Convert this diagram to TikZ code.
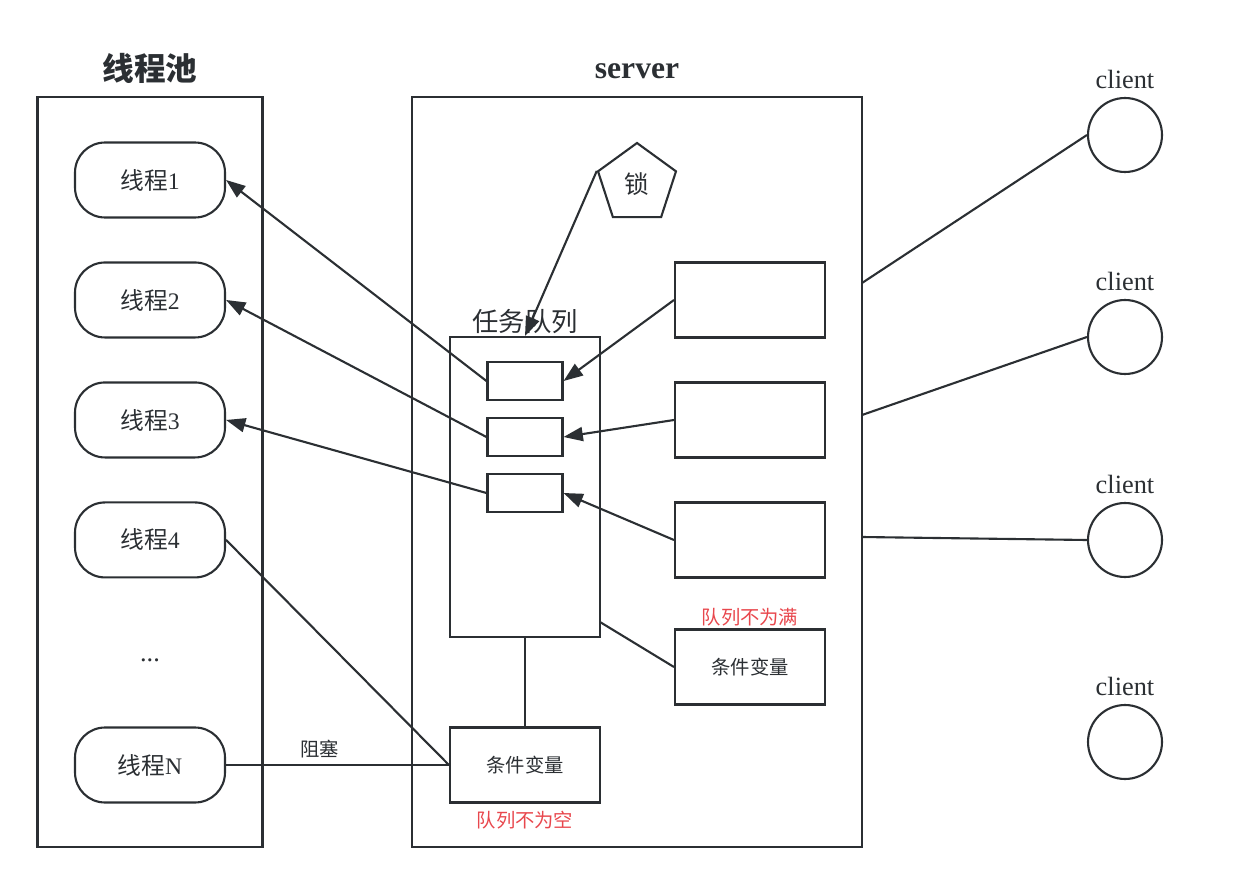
\documentclass[tikz,border=0pt]{standalone}
\usepackage{fontspec}
\setmainfont{Liberation Serif}
\newfontfamily\cjk{Noto Sans CJK SC}
\usetikzlibrary{arrows.meta,shapes.geometric,positioning}
\definecolor{linec}{HTML}{2B2F33}
\definecolor{warn}{HTML}{E8474D}

\begin{document}
\begin{tikzpicture}[x=0.02cm, y=-0.02cm, line width=1.2pt, color=linec,
  >={Triangle[length=11pt,width=8pt]}, node distance=2.4cm,
  pool/.style={draw, minimum width=4.5cm, minimum height=15cm},
  thread/.style={draw, rounded corners=0.6cm, minimum width=3cm, minimum height=1.5cm, font=\fontsize{13.5}{15}\selectfont},
  slot/.style={draw, minimum width=1.5cm, minimum height=0.76cm},
  producer/.style={draw, minimum width=3cm, minimum height=1.5cm},
  condvar/.style={draw, minimum width=3cm, minimum height=1.5cm, font=\cjk\fontsize{11}{13}\selectfont},
  client/.style={draw, circle, minimum size=1.48cm},
  clientlbl/.style={font=\fontsize{15}{17}\selectfont},
  note/.style={text=warn, font=\cjk\fontsize{11}{13}\selectfont}]
  \useasboundingbox (0,0) rectangle (1237,885);

  % thread pool
  \node[pool]   (pool)    at (150,472) {};
  \node[font=\cjk\bfseries\fontsize{18}{20}\selectfont] (pooltitle) at (150,68) {线程池};
  \node[thread] (T1)      at (150,180) {{\cjk 线程}1};
  \node[thread] (T2)      [below of=T1] {{\cjk 线程}2};
  \node[thread] (T3)      [below of=T2] {{\cjk 线程}3};
  \node[thread] (T4)      [below of=T3] {{\cjk 线程}4};
  \node[font=\fontsize{15}{17}\selectfont] (dots) at (150,660) {...};
  \node[thread] (TN)      at (150,765) {{\cjk 线程}N};

  % server
  \node[draw, minimum width=9cm, minimum height=15cm] (server) at (637,472) {};
  \node[font=\bfseries\fontsize{18}{20}\selectfont] (servertitle) at (637,71) {server};
  \node[draw, regular polygon, regular polygon sides=5, minimum size=1.64cm,
        font=\cjk\fontsize{14}{16}\selectfont] (lock) at (637,184) {锁};
  \node[draw, minimum width=3cm, minimum height=6cm] (queue) at (525,487) {};
  \node[font=\cjk\fontsize{15}{17}\selectfont] (queuelbl) at (525,322) {任务队列};
  \node[slot] (S1) at (525,381) {};
  \node[slot] (S2) at (525,437) {};
  \node[slot] (S3) at (525,493) {};
  \node[producer] (P1) at (750,300) {};
  \node[producer] (P2) at (750,420) {};
  \node[producer] (P3) at (750,540) {};
  \node[condvar] (CVfull)  at (750,667) {条件变量};
  \node[note]    (notfull) at (750,617) {队列不为满};
  \node[condvar] (CVempty) at (525,765) {条件变量};
  \node[note]    (notempty) at (525,820) {队列不为空};

  % clients
  \foreach \i/\y in {1/135, 2/337, 3/540, 4/742} {
    \node[client]    (C\i)  at (1125,\y) {};
    \node[clientlbl] (CL\i) at (1125,\y-56) {client};
  }
  \coordinate (E1) at (862,283);
  \coordinate (E2) at (862,415);
  \coordinate (E3) at (862,537);
  \coordinate (Q1) at (600,622);

  \draw[->] (S1.west) -- (T1.east);
  \draw[->] (S2.west) -- (T2.east);
  \draw[->] (S3.west) -- (T3.east);
  \draw[->] (P1.west) -- (S1.east);
  \draw[->] (P2.west) -- (S2.east);
  \draw[->] (P3.west) -- (S3.east);
  \draw[->] (lock.corner 2) -- (queue.north);
  \draw (queue.south) -- (CVempty.north);
  \draw (Q1) -- (CVfull.west);
  \draw (T4.east) -- (CVempty.west);
  \draw (TN.east) -- node[above, font=\cjk\fontsize{11}{13}\selectfont, pos=0.42] {阻塞} (CVempty.west);
  \draw (E1) -- (C1.west);
  \draw (E2) -- (C2.west);
  \draw (E3) -- (C3.west);
\end{tikzpicture}
\end{document}
